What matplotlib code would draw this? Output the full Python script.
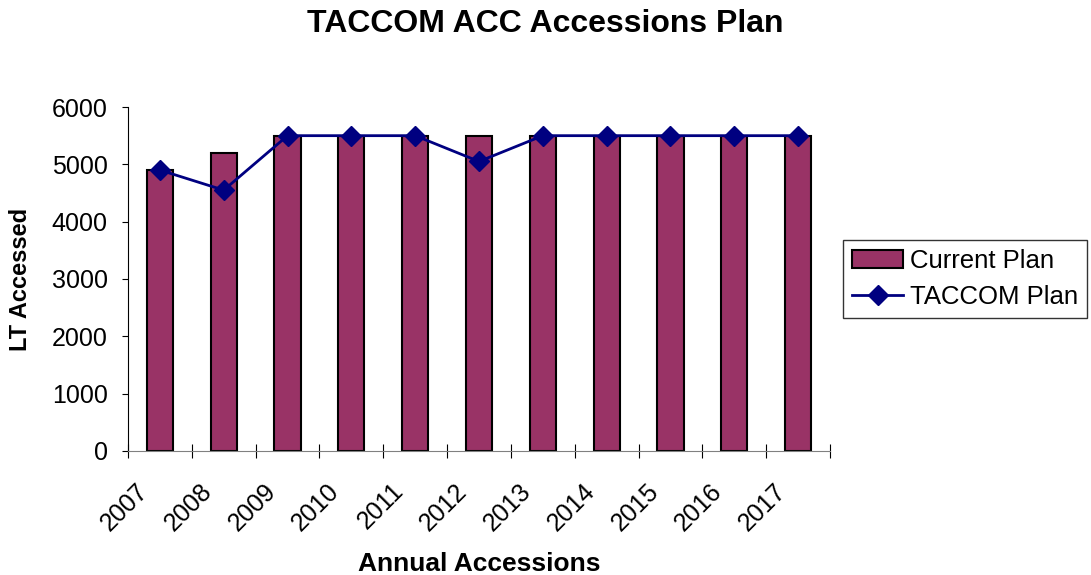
import numpy as np
import matplotlib
matplotlib.use("Agg")
import matplotlib.pyplot as plt

plt.rcParams["font.family"] = ["Liberation Sans", "DejaVu Sans"]

# 数据
years = ["2007", "2008", "2009", "2010", "2011", "2012",
         "2013", "2014", "2015", "2016", "2017"]
current_plan = [4900, 5200, 5500, 5500, 5500, 5500, 5500, 5500, 5500, 5500, 5500]
taccom_plan = [4900, 4550, 5500, 5500, 5500, 5050, 5500, 5500, 5500, 5500, 5500]

# 画布
fig = plt.figure(figsize=(10.91, 5.75), dpi=100)
ax = fig.add_axes([0.1173, 0.2157, 0.6435, 0.5982])

x = np.arange(len(years))
ax.bar(x, current_plan, width=0.41, color="#993366", edgecolor="black",
       linewidth=1.5, label="Current Plan", zorder=2)
ax.plot(x, taccom_plan, color="#000080", linewidth=2, marker="D",
        markersize=10, label="TACCOM Plan", zorder=3)

# 坐标轴
ax.set_xlim(-0.5, len(years) - 0.5)
ax.set_ylim(0, 6000)
ax.set_yticks(np.arange(0, 6001, 1000))
ax.set_xticks(np.arange(-0.5, len(years)), minor=False)
ax.set_xticklabels([])
# 标签稍微左移
ax.set_xticks(x - 0.38, minor=True)
ax.set_xticklabels(years, minor=True, rotation=45, ha="right",
                   rotation_mode="anchor", fontsize=18)
ax.tick_params(axis="x", which="minor", length=0, pad=20)
ax.tick_params(axis="x", which="major", direction="inout", length=10, color="black")
ax.tick_params(axis="y", direction="out", length=4.5, pad=10, labelsize=18)
ax.spines["top"].set_visible(False)
ax.spines["right"].set_visible(False)
ax.spines["bottom"].set_color("#808080")

ax.set_xlabel("Annual Accessions", fontsize=19, fontweight="bold", labelpad=12)
ax.set_ylabel("LT Accessed", fontsize=17, fontweight="bold", labelpad=14)
fig.suptitle("TACCOM ACC Accessions Plan", fontsize=23, fontweight="bold", y=0.985)

handles, labels = ax.get_legend_handles_labels()
leg = ax.legend(handles[::-1], labels[::-1], loc="center left",
                bbox_to_anchor=(1.0185, 0.5), borderaxespad=0, fontsize=18.5,
                frameon=True, fancybox=False, edgecolor="black",
                handlelength=2.0, borderpad=0.35, labelspacing=0.45, handletextpad=0.25)
leg.get_frame().set_linewidth(1)

plt.savefig("out.png", dpi=100)
